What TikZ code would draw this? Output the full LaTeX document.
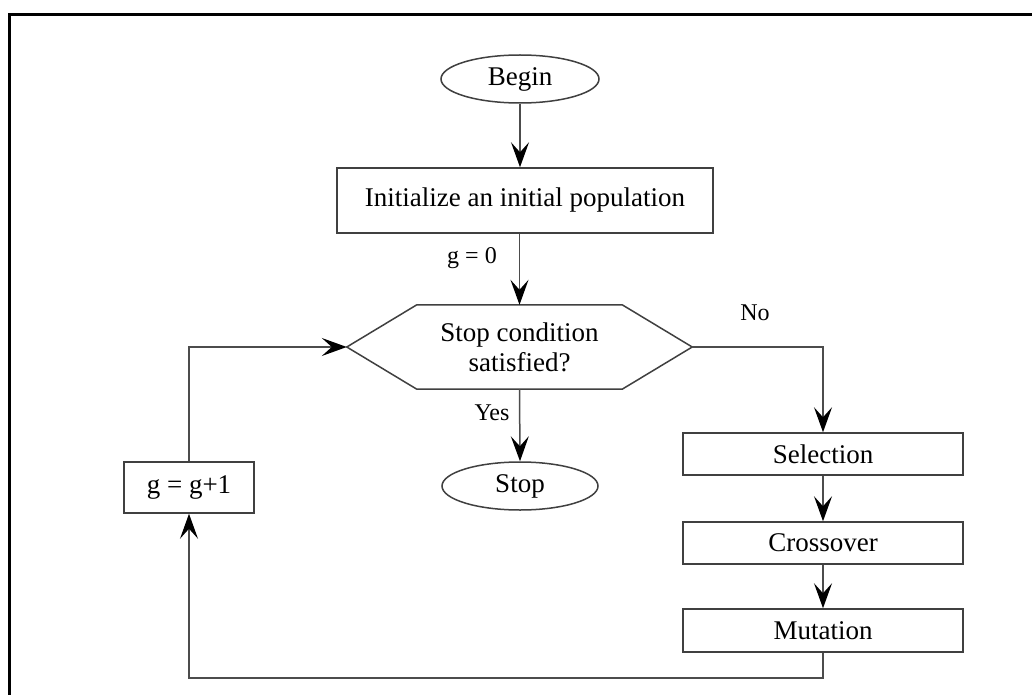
\documentclass[tikz,border=0pt]{standalone}
\usepackage{fontspec}
\setmainfont{Liberation Serif}
\usetikzlibrary{arrows.meta,shapes.geometric}
\begin{document}
\begin{tikzpicture}[x=1pt,y=-1pt,
  every node/.style={font=\fontsize{27}{30}\selectfont, text=black},
  outline/.style={draw=black!75, line width=1.5pt},
  procbox/.style={outline, rectangle, inner sep=0pt, align=center},
  term/.style={outline, ellipse, inner sep=0pt, minimum width=158pt, minimum height=48pt},
  hexnode/.style={inner sep=0pt, minimum width=345pt, minimum height=84pt, align=center},
  conn/.style={draw=black!70, line width=1.5pt,
    -{Stealth[length=25pt, width=18pt, inset=10pt, color=black]}},
  lbl/.style={font=\fontsize{24}{28}\selectfont}
]
\useasboundingbox (0,0) rectangle (1032,695);
\fill[white] (0,0) rectangle (1032,695);
% outer frame (left and top edges)
\draw[line width=3pt, line cap=rect] (9.5,695) -- (9.5,14.8) -- (1032,14.8);

% nodes
\node[term] (begin) at (520,79) {Begin};
\node[procbox, minimum width=376pt, minimum height=65pt] (init) at (525,200.5) {Initialize an initial population};
\node[hexnode] (cond) at (519.5,347) {Stop condition\\satisfied?};
\draw[outline, line join=miter]
  (cond.west) -- ([xshift=70pt]cond.north west) -- ([xshift=-70pt]cond.north east)
  -- (cond.east) -- ([xshift=-70pt]cond.south east) -- ([xshift=70pt]cond.south west) -- cycle;
\node[term, minimum width=156pt] (stop) at (520,486) {Stop};
\node[procbox, minimum width=280pt, minimum height=42pt] (sel) at (823,454) {Selection};
\node[procbox, minimum width=280pt, minimum height=42pt] (cross) at (823,543) {Crossover};
\node[procbox, minimum width=280pt, minimum height=43pt] (mut) at (823,630.5) {Mutation};
\node[procbox, minimum width=130pt, minimum height=51pt] (inc) at (189,487.5) {g = g+1};
\coordinate (low) at (189,678);

% labels
\node[lbl] (lg) at (472,258) {g = 0};
\node[lbl] (lyes) at (492,413) {Yes};
\node[lbl] (lno) at (755,313) {No};

% connectors
\draw[conn] (begin.south) -- (begin.south |- init.north);
\draw[conn] (cond.north |- init.south) -- (cond.north);
\draw[conn] (cond.south) -- (stop.north);
\draw[conn] (cond.east) -| (sel.north);
\draw[conn] (sel.south) -- (cross.north);
\draw[conn] (cross.south) -- (mut.north);
\draw[conn] (mut.south) |- (low) -- (inc.south);
\draw[conn] (inc.north) |- (cond.west);
\end{tikzpicture}
\end{document}
